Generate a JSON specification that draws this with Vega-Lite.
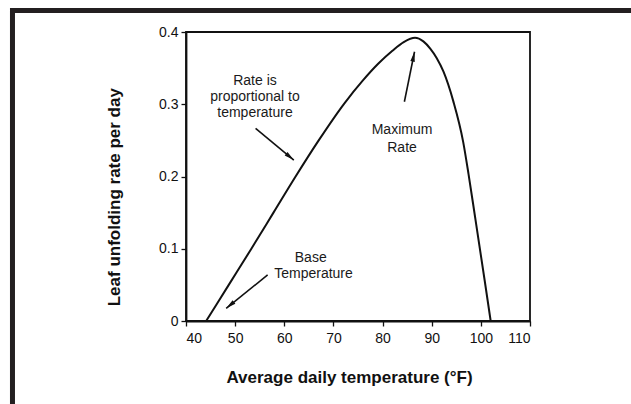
{
  "$schema": "https://vega.github.io/schema/vega-lite/v6.json",
  "autosize": "none",
  "width": 344,
  "height": 289,
  "padding": {"left": 186, "top": 32, "right": 101, "bottom": 83},
  "background": "white",
  "config": {
    "view": {"stroke": "#111", "strokeWidth": 1.8},
    "font": "Liberation Sans",
    "axis": {
      "domainColor": "#111",
      "domainWidth": 1.8,
      "tickColor": "#111",
      "tickWidth": 1.3,
      "tickSize": 5,
      "labelFont": "Liberation Sans",
      "labelFontSize": 14,
      "labelColor": "#111",
      "titleFont": "Liberation Sans",
      "titleFontSize": 17,
      "titleFontWeight": "bold",
      "titleColor": "#111",
      "grid": false
    }
  },
  "datasets": {
    "curve": [
      {"temp": 44.1, "rate": 0},
      {"temp": 48.7, "rate": 0.05},
      {"temp": 53.3, "rate": 0.1},
      {"temp": 57.8, "rate": 0.15},
      {"temp": 62.3, "rate": 0.2},
      {"temp": 67, "rate": 0.25},
      {"temp": 72.2, "rate": 0.301},
      {"temp": 76, "rate": 0.333},
      {"temp": 79.1, "rate": 0.356},
      {"temp": 82, "rate": 0.374},
      {"temp": 84.3, "rate": 0.386},
      {"temp": 86.6, "rate": 0.392},
      {"temp": 88.3, "rate": 0.387},
      {"temp": 89.7, "rate": 0.377},
      {"temp": 91, "rate": 0.364},
      {"temp": 92.4, "rate": 0.345},
      {"temp": 94.4, "rate": 0.304},
      {"temp": 96.4, "rate": 0.248},
      {"temp": 97.5, "rate": 0.203},
      {"temp": 98.8, "rate": 0.145},
      {"temp": 100.8, "rate": 0.055},
      {"temp": 102, "rate": 0}
    ],
    "labels": [
      {"label": "Rate is", "temp": 54.04, "rate": 0.3326},
      {"label": "proportional to", "temp": 54.04, "rate": 0.31},
      {"label": "temperature", "temp": 54.04, "rate": 0.2872},
      {"label": "Maximum", "temp": 83.96, "rate": 0.2644},
      {"label": "Rate", "temp": 83.96, "rate": 0.2394},
      {"label": "Base", "temp": 65.38, "rate": 0.0876},
      {"label": "Temperature", "temp": 65.95, "rate": 0.0651}
    ],
    "arrows": [
      {"id": "a1", "temp": 54.16, "rate": 0.2667, "temp2": 61.94, "rate2": 0.2228},
      {"id": "a2", "temp": 84.44, "rate": 0.3035, "temp2": 86.5, "rate2": 0.3727},
      {"id": "a3", "temp": 56.61, "rate": 0.0637, "temp2": 48.18, "rate2": 0.0176}
    ],
    "frame": [
      {"temp": 4.69, "temp2": 140, "rate": 0.4298, "rate2": -0.2}
    ]
  },
  "layer": [
    {
      "data": {"name": "frame"},
      "mark": {"type": "rect", "fillOpacity": 0, "stroke": "#231f20", "strokeWidth": 5, "clip": false},
      "encoding": {
        "x": {"field": "temp", "type": "quantitative", "scale": {"domain": [40, 110], "nice": false}},
        "x2": {"field": "temp2"},
        "y": {"field": "rate", "type": "quantitative", "scale": {"domain": [0, 0.4], "nice": false}},
        "y2": {"field": "rate2"}
      }
    },
    {
      "data": {"name": "curve"},
      "mark": {"type": "line", "color": "#111", "strokeWidth": 2, "interpolate": "monotone"},
      "encoding": {
        "x": {
          "field": "temp", "type": "quantitative",
          "scale": {"domain": [40, 110], "nice": false, "zero": false},
          "axis": {
            "values": [40, 50, 60, 70, 80, 90, 100, 110],
            "title": "Average daily temperature (°F)",
            "labelPadding": 5,
            "titleAnchor": "start",
            "titleAlign": "center",
            "titleX": 163,
            "titleY": 56,
            "titleBaseline": "middle"
          }
        },
        "y": {
          "field": "rate", "type": "quantitative",
          "scale": {"domain": [0, 0.4], "nice": false},
          "axis": {
            "values": [0, 0.1, 0.2, 0.3, 0.4],
            "labelExpr": "datum.value === 0 ? '0' : format(datum.value, '.1f')",
            "title": "Leaf unfolding rate per day",
            "labelPadding": 3,
            "titleAlign": "center",
            "titleAngle": 270,
            "titleX": -72,
            "titleY": 164.7,
            "titleBaseline": "middle",
            "titleAnchor": "start"
          }
        }
      }
    },
    {
      "data": {"name": "labels"},
      "mark": {"type": "text", "font": "Liberation Sans", "fontSize": 14, "color": "#1a1a1a", "align": "center", "baseline": "middle"},
      "encoding": {
        "x": {"field": "temp", "type": "quantitative"},
        "y": {"field": "rate", "type": "quantitative"},
        "text": {"field": "label"}
      }
    },
    {
      "data": {"name": "arrows"},
      "mark": {"type": "rule", "color": "#111", "strokeWidth": 1.6},
      "encoding": {
        "x": {"field": "temp", "type": "quantitative"},
        "y": {"field": "rate", "type": "quantitative"},
        "x2": {"field": "temp2"},
        "y2": {"field": "rate2"}
      }
    },
    {
      "data": {"name": "arrows"},
      "transform": [{"filter": "datum.id === 'a1'"}],
      "mark": {"type": "point", "shape": "M0,0L0.45,2L-0.45,2Z", "filled": true, "color": "#111", "opacity": 1, "size": 100, "angle": 129.4},
      "encoding": {
        "x": {"field": "temp2", "type": "quantitative"},
        "y": {"field": "rate2", "type": "quantitative"}
      }
    },
    {
      "data": {"name": "arrows"},
      "transform": [{"filter": "datum.id === 'a2'"}],
      "mark": {"type": "point", "shape": "M0,0L0.45,2L-0.45,2Z", "filled": true, "color": "#111", "opacity": 1, "size": 100, "angle": 11.3},
      "encoding": {
        "x": {"field": "temp2", "type": "quantitative"},
        "y": {"field": "rate2", "type": "quantitative"}
      }
    },
    {
      "data": {"name": "arrows"},
      "transform": [{"filter": "datum.id === 'a3'"}],
      "mark": {"type": "point", "shape": "M0,0L0.45,2L-0.45,2Z", "filled": true, "color": "#111", "opacity": 1, "size": 100, "angle": 231.2},
      "encoding": {
        "x": {"field": "temp2", "type": "quantitative"},
        "y": {"field": "rate2", "type": "quantitative"}
      }
    }
  ]
}
